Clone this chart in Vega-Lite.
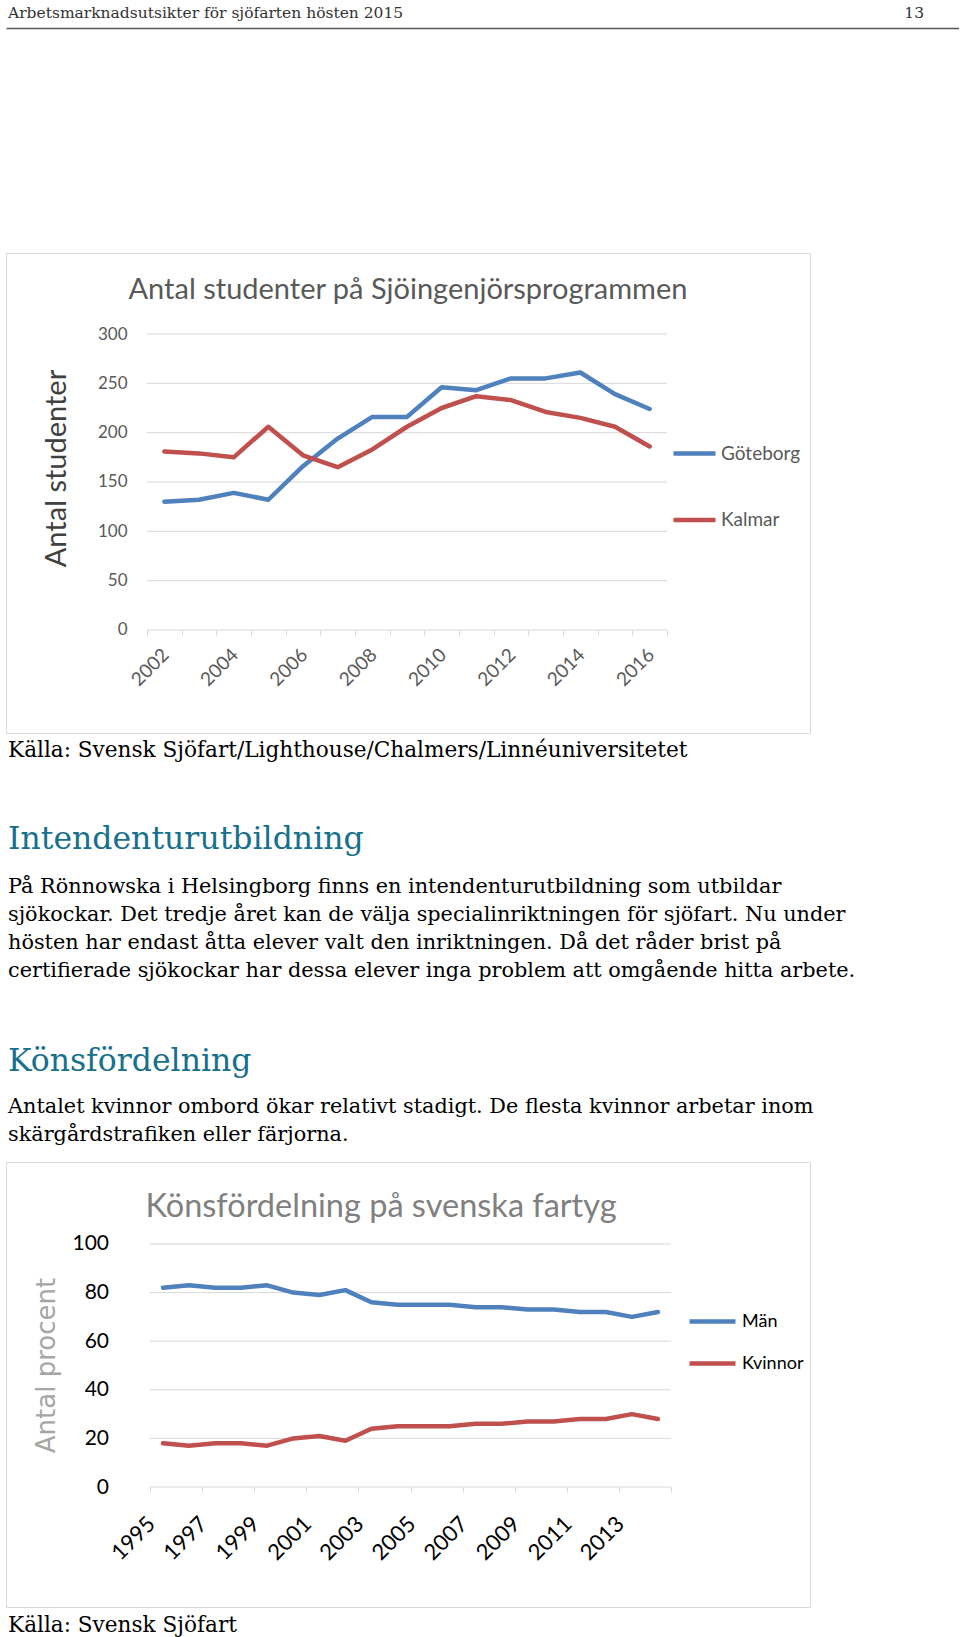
{
  "$schema": "https://vega.github.io/schema/vega-lite/v6.json",
  "background": "white",
  "padding": {"left": 5, "top": 0, "right": 0, "bottom": 0},
  "autosize": {"type": "pad"},
  "spacing": 0,
  "config": {
    "font": "Lato",
    "view": {"stroke": null},
    "title": {"fontWeight": "normal"},
    "axis": {"labelFont": "Lato", "titleFont": "Lato", "titleFontWeight": "normal", "grid": false}
  },
  "resolve": {
    "scale": {"x": "independent", "y": "independent", "color": "independent"},
    "axis": {"x": "independent", "y": "independent"},
    "legend": {"color": "independent"}
  },
  "datasets": {
    "header": [
      {"side": "left", "label": "Arbetsmarknadsutsikter för sjöfarten hösten 2015"},
      {"side": "right", "label": "13"}
    ],
    "students": [
      {"year": 2002, "ort": "Göteborg", "antal": 130}, {"year": 2003, "ort": "Göteborg", "antal": 132},
      {"year": 2004, "ort": "Göteborg", "antal": 139}, {"year": 2005, "ort": "Göteborg", "antal": 132},
      {"year": 2006, "ort": "Göteborg", "antal": 166}, {"year": 2007, "ort": "Göteborg", "antal": 194},
      {"year": 2008, "ort": "Göteborg", "antal": 216}, {"year": 2009, "ort": "Göteborg", "antal": 216},
      {"year": 2010, "ort": "Göteborg", "antal": 246}, {"year": 2011, "ort": "Göteborg", "antal": 243},
      {"year": 2012, "ort": "Göteborg", "antal": 255}, {"year": 2013, "ort": "Göteborg", "antal": 255},
      {"year": 2014, "ort": "Göteborg", "antal": 261}, {"year": 2015, "ort": "Göteborg", "antal": 239},
      {"year": 2016, "ort": "Göteborg", "antal": 224},
      {"year": 2002, "ort": "Kalmar", "antal": 181}, {"year": 2003, "ort": "Kalmar", "antal": 179},
      {"year": 2004, "ort": "Kalmar", "antal": 175}, {"year": 2005, "ort": "Kalmar", "antal": 206},
      {"year": 2006, "ort": "Kalmar", "antal": 177}, {"year": 2007, "ort": "Kalmar", "antal": 165},
      {"year": 2008, "ort": "Kalmar", "antal": 183}, {"year": 2009, "ort": "Kalmar", "antal": 206},
      {"year": 2010, "ort": "Kalmar", "antal": 225}, {"year": 2011, "ort": "Kalmar", "antal": 237},
      {"year": 2012, "ort": "Kalmar", "antal": 233}, {"year": 2013, "ort": "Kalmar", "antal": 221},
      {"year": 2014, "ort": "Kalmar", "antal": 215}, {"year": 2015, "ort": "Kalmar", "antal": 206},
      {"year": 2016, "ort": "Kalmar", "antal": 186}
    ],
    "gender": [
      {"year": 1995, "kon": "Män", "procent": 82}, {"year": 1996, "kon": "Män", "procent": 83},
      {"year": 1997, "kon": "Män", "procent": 82}, {"year": 1998, "kon": "Män", "procent": 82},
      {"year": 1999, "kon": "Män", "procent": 83}, {"year": 2000, "kon": "Män", "procent": 80},
      {"year": 2001, "kon": "Män", "procent": 79}, {"year": 2002, "kon": "Män", "procent": 81},
      {"year": 2003, "kon": "Män", "procent": 76}, {"year": 2004, "kon": "Män", "procent": 75},
      {"year": 2005, "kon": "Män", "procent": 75}, {"year": 2006, "kon": "Män", "procent": 75},
      {"year": 2007, "kon": "Män", "procent": 74}, {"year": 2008, "kon": "Män", "procent": 74},
      {"year": 2009, "kon": "Män", "procent": 73}, {"year": 2010, "kon": "Män", "procent": 73},
      {"year": 2011, "kon": "Män", "procent": 72}, {"year": 2012, "kon": "Män", "procent": 72},
      {"year": 2013, "kon": "Män", "procent": 70}, {"year": 2014, "kon": "Män", "procent": 72},
      {"year": 1995, "kon": "Kvinnor", "procent": 18}, {"year": 1996, "kon": "Kvinnor", "procent": 17},
      {"year": 1997, "kon": "Kvinnor", "procent": 18}, {"year": 1998, "kon": "Kvinnor", "procent": 18},
      {"year": 1999, "kon": "Kvinnor", "procent": 17}, {"year": 2000, "kon": "Kvinnor", "procent": 20},
      {"year": 2001, "kon": "Kvinnor", "procent": 21}, {"year": 2002, "kon": "Kvinnor", "procent": 19},
      {"year": 2003, "kon": "Kvinnor", "procent": 24}, {"year": 2004, "kon": "Kvinnor", "procent": 25},
      {"year": 2005, "kon": "Kvinnor", "procent": 25}, {"year": 2006, "kon": "Kvinnor", "procent": 25},
      {"year": 2007, "kon": "Kvinnor", "procent": 26}, {"year": 2008, "kon": "Kvinnor", "procent": 26},
      {"year": 2009, "kon": "Kvinnor", "procent": 27}, {"year": 2010, "kon": "Kvinnor", "procent": 27},
      {"year": 2011, "kon": "Kvinnor", "procent": 28}, {"year": 2012, "kon": "Kvinnor", "procent": 28},
      {"year": 2013, "kon": "Kvinnor", "procent": 30}, {"year": 2014, "kon": "Kvinnor", "procent": 28}
    ],
    "grid1": [{"antal": 0}, {"antal": 50}, {"antal": 100}, {"antal": 150}, {"antal": 200}, {"antal": 250}, {"antal": 300}],
    "grid2": [{"procent": 0}, {"procent": 20}, {"procent": 40}, {"procent": 60}, {"procent": 80}, {"procent": 100}]
  },
  "vconcat": [
    {
      "width": 953,
      "height": 28,
      "data": {"name": "header"},
      "layer": [
        {
          "transform": [{"filter": "datum.side == 'left'"}],
          "mark": {"type": "text", "align": "left", "baseline": "alphabetic", "dx": 2, "dy": 4, "font": "DejaVu Serif", "fontSize": 15.5, "fill": "#333333"},
          "encoding": {
            "x": {"field": "side", "type": "nominal", "scale": {"type": "point", "domain": ["left", "right"], "padding": 0},
                  "axis": {"orient": "bottom", "labels": false, "ticks": false, "domain": true, "domainColor": "#555555", "domainWidth": 1.5, "title": null, "grid": false}},
            "text": {"field": "label"}
          }
        },
        {
          "transform": [{"filter": "datum.side == 'right'"}],
          "mark": {"type": "text", "align": "right", "baseline": "alphabetic", "dx": -35, "dy": 4, "font": "DejaVu Serif", "fontSize": 15.5, "fill": "#333333"},
          "encoding": {
            "x": {"field": "side", "type": "nominal"},
            "text": {"field": "label"}
          }
        }
      ]
    },
    {"width": 10, "height": 223.5, "data": {"values": []}, "mark": "point"},
    {
      "width": 804,
      "height": 480,
      "view": {"stroke": "#d9d9d9", "strokeWidth": 1},
      "title": {"text": "Antal studenter på Sjöingenjörsprogrammen", "anchor": "middle", "frame": "group", "offset": -52, "fontSize": 29, "color": "#595959", "font": "Lato", "fontWeight": "normal"},
      "layer": [
        {
          "data": {"name": "grid1"},
          "mark": {"type": "rule", "color": "#d9d9d9", "strokeWidth": 1},
          "encoding": {
            "y": {"field": "antal", "type": "quantitative"},
            "x": {"datum": 2001.5},
            "x2": {"datum": 2016.5}
          }
        },
        {
          "data": {"name": "students"},
          "mark": {"type": "line", "strokeWidth": 4.5, "strokeJoin": "round", "strokeCap": "round"},
          "encoding": {
            "x": {"field": "year", "type": "quantitative",
                  "scale": {"domain": [1997.433, 2020.625], "nice": false, "zero": false},
                  "axis": {"values": [2001.5, 2002.5, 2003.5, 2004.5, 2005.5, 2006.5, 2007.5, 2008.5, 2009.5, 2010.5, 2011.5, 2012.5, 2013.5, 2014.5, 2015.5, 2016.5],
                           "orient": "bottom", "offset": -103, "domain": false, "grid": false, "ticks": true, "tickSize": 5, "tickColor": "#d9d9d9", "tickWidth": 1,
                           "labelAngle": -45, "labelExpr": "(datum.value + 0.5) % 2 == 0 && datum.value < 2016 ? toString(datum.value + 0.5) : ''",
                           "labelOffset": 12, "labelPadding": 10, "labelFontSize": 19, "labelColor": "#595959", "labelOverlap": false, "labelBound": false, "labelFlush": false, "title": null}},
            "y": {"field": "antal", "type": "quantitative",
                  "scale": {"domain": [-104.4, 382.1], "nice": false, "zero": false},
                  "axis": {"values": [0, 50, 100, 150, 200, 250, 300], "orient": "left", "offset": -141, "domain": false, "ticks": false, "tickSize": 0, "grid": false,
                           "labelPadding": 20, "labelFontSize": 17, "labelColor": "#595959", "labelBaseline": "middle",
                           "title": "Antal studenter", "titleFontSize": 29, "titleColor": "#404040", "titleX": -82, "titleY": 215, "titleBaseline": "alphabetic", "titleAlign": "center", "titleAngle": -90}},
            "color": {"field": "ort", "type": "nominal",
                      "scale": {"domain": ["Göteborg", "Kalmar"], "range": ["#4f81bd", "#c0504d"]},
                      "legend": {"orient": "none", "legendX": 665, "legendY": 177, "title": null, "symbolType": "stroke", "symbolSize": 1764, "symbolStrokeWidth": 4.5,
                                 "labelFontSize": 19, "labelColor": "#595959", "labelFont": "Lato", "labelOffset": 3, "rowPadding": 32.5, "padding": 0}}
          }
        }
      ]
    },
    {
      "width": 953, "height": 1, "data": {"values": []}, "mark": "point",
      "title": {"text": "Källa: Svensk Sjöfart/Lighthouse/Chalmers/Linnéuniversitetet", "orient": "bottom", "anchor": "start", "frame": "group", "offset": 5, "dx": 2,
                "font": "DejaVu Serif", "fontSize": 21.6, "fontWeight": "normal", "color": "#000000"}
    },
    {
      "width": 953, "height": 61.5, "data": {"values": []}, "mark": "point",
      "title": {"text": "Intendenturutbildning", "orient": "bottom", "anchor": "start", "frame": "group", "offset": 0, "dx": 2,
                "font": "DejaVu Serif", "fontSize": 31.5, "fontWeight": "normal", "color": "#17708c",
                "subtitle": ["På Rönnowska i Helsingborg finns en intendenturutbildning som utbildar",
                             "sjökockar. Det tredje året kan de välja specialinriktningen för sjöfart.  Nu under",
                             "hösten har endast åtta elever valt den inriktningen. Då det råder brist på",
                             "certifierade sjökockar har dessa elever inga problem att omgående hitta arbete."],
                "subtitleFont": "DejaVu Serif", "subtitleFontSize": 20.8, "subtitleColor": "#000000", "subtitleLineHeight": 28.2, "subtitlePadding": 21.5}
    },
    {
      "width": 953, "height": 64.5, "data": {"values": []}, "mark": "point",
      "title": {"text": "Könsfördelning", "orient": "bottom", "anchor": "start", "frame": "group", "offset": 0, "dx": 2,
                "font": "DejaVu Serif", "fontSize": 31.5, "fontWeight": "normal", "color": "#17708c",
                "subtitle": ["Antalet kvinnor ombord ökar relativt stadigt. De flesta kvinnor arbetar inom",
                             "skärgårdstrafiken eller färjorna."],
                "subtitleFont": "DejaVu Serif", "subtitleFontSize": 20.8, "subtitleColor": "#000000", "subtitleLineHeight": 28.2, "subtitlePadding": 19.5}
    },
    {"width": 10, "height": 15.5, "data": {"values": []}, "mark": "point"},
    {
      "width": 804,
      "height": 445,
      "view": {"stroke": "#d9d9d9", "strokeWidth": 1},
      "title": {"text": "Könsfördelning på svenska fartyg", "anchor": "middle", "frame": "group", "offset": -61, "dx": -27, "fontSize": 32.5, "color": "#808080", "font": "Lato", "fontWeight": "normal"},
      "layer": [
        {
          "data": {"name": "grid2"},
          "mark": {"type": "rule", "color": "#d9d9d9", "strokeWidth": 1},
          "encoding": {
            "y": {"field": "procent", "type": "quantitative"},
            "x": {"datum": 1994.5},
            "x2": {"datum": 2014.5}
          }
        },
        {
          "data": {"name": "gender"},
          "mark": {"type": "line", "strokeWidth": 4.5, "strokeJoin": "round", "strokeCap": "round"},
          "encoding": {
            "x": {"field": "year", "type": "quantitative",
                  "scale": {"domain": [1988.972, 2019.836], "nice": false, "zero": false},
                  "axis": {"values": [1994.5, 1996.5, 1998.5, 2000.5, 2002.5, 2004.5, 2006.5, 2008.5, 2010.5, 2012.5, 2014.5],
                           "orient": "bottom", "offset": -120, "domain": false, "grid": false, "ticks": true, "tickSize": 5, "tickColor": "#d9d9d9", "tickWidth": 1,
                           "labelAngle": -45, "labelExpr": "datum.value < 2014 ? toString(datum.value + 0.5) : ''",
                           "labelOffset": -6, "labelPadding": 21, "labelFontSize": 22, "labelColor": "#000000", "labelOverlap": false, "labelBound": false, "labelFlush": false, "title": null}},
            "y": {"field": "procent", "type": "quantitative",
                  "scale": {"domain": [-49.38, 133.74], "nice": false, "zero": false},
                  "axis": {"values": [0, 20, 40, 60, 80, 100], "orient": "left", "offset": -144, "domain": false, "ticks": false, "tickSize": 0, "grid": false,
                           "labelPadding": 41.5, "labelFontSize": 21, "labelColor": "#000000", "labelBaseline": "middle",
                           "title": "Antal procent", "titleFont": "DejaVu Sans", "titleFontSize": 26, "titleColor": "#a6a6a6", "titleX": -96, "titleY": 203, "titleBaseline": "alphabetic", "titleAlign": "center", "titleAngle": -90}},
            "color": {"field": "kon", "type": "nominal",
                      "scale": {"domain": ["Män", "Kvinnor"], "range": ["#4f81bd", "#c0504d"]},
                      "legend": {"orient": "none", "legendX": 681, "legendY": 134, "title": null, "symbolType": "stroke", "symbolSize": 2116, "symbolStrokeWidth": 4.5,
                                 "labelFontSize": 18, "labelColor": "#000000", "labelFont": "Lato", "labelOffset": 4, "rowPadding": 7, "padding": 0}}
          }
        }
      ]
    },
    {
      "width": 953, "height": 1, "data": {"values": []}, "mark": "point",
      "title": {"text": "Källa: Svensk Sjöfart", "orient": "bottom", "anchor": "start", "frame": "group", "offset": 5.5, "dx": 2,
                "font": "DejaVu Serif", "fontSize": 21.6, "fontWeight": "normal", "color": "#000000"}
    }
  ]
}
